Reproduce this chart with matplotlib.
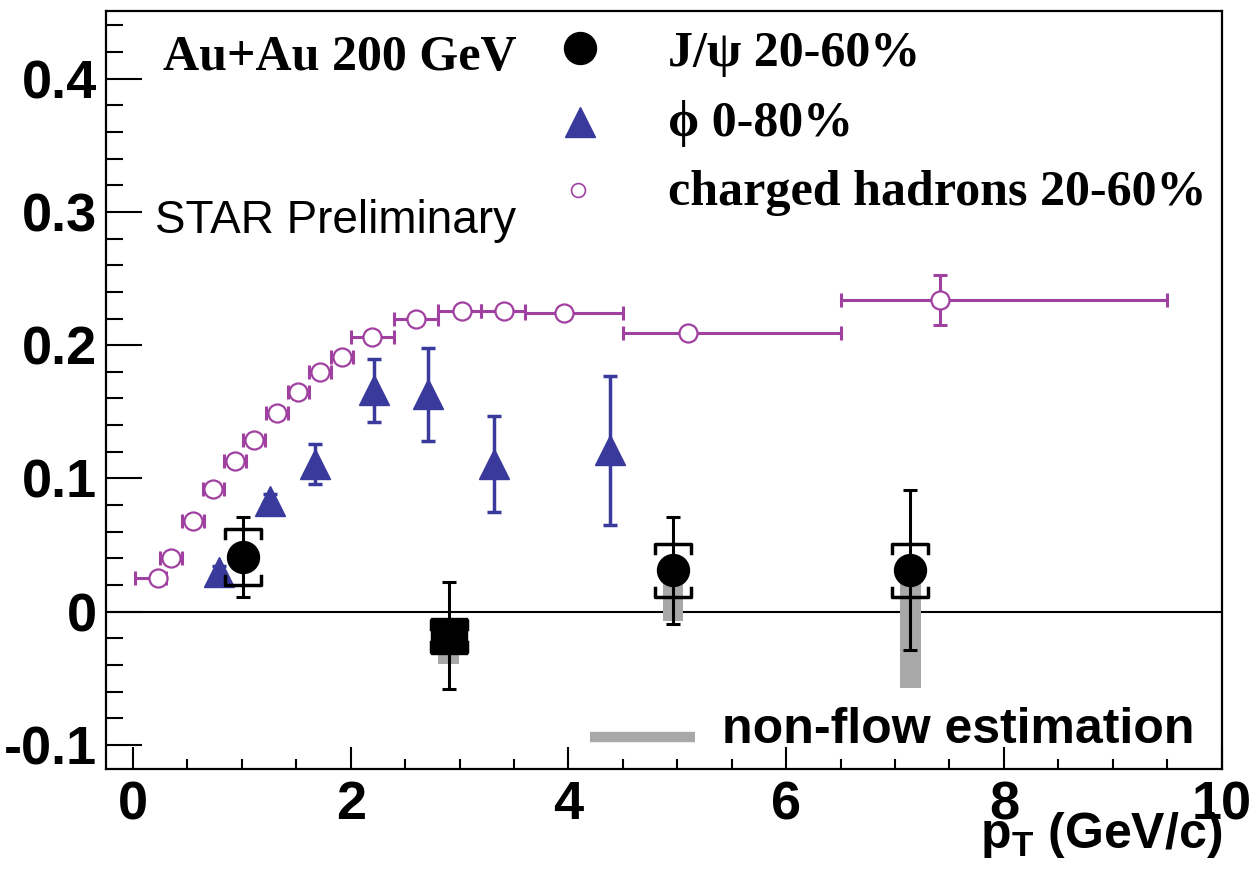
import numpy as np
import matplotlib
matplotlib.use("Agg")
from matplotlib import pyplot as plt
from matplotlib.ticker import MultipleLocator, FixedLocator, FixedFormatter

# J/psi 20-60% (last three have non-flow estimates)
jpsi_pt = [1.01, 2.90, 4.96, 7.14]
jpsi_v2 = [0.041, -0.018, 0.031, 0.031]
jpsi_stat = [0.030, 0.040, 0.040, 0.060]
jpsi_sys = [0.021, 0.012, 0.020, 0.020]
jpsi_nonflow = [0.0, 0.021, 0.038, 0.088]
jpsi_marker = ["o", "s", "o", "o"]

# phi 0-80%
phi_pt = [0.79, 1.26, 1.67, 2.21, 2.71, 3.32, 4.38]
phi_v2 = [0.030, 0.083, 0.111, 0.166, 0.163, 0.111, 0.121]
phi_err = [0.004, 0.005, 0.015, 0.024, 0.035, 0.036, 0.056]

# charged hadrons 20-60%
ch_pt = [0.23, 0.35, 0.55, 0.74, 0.94, 1.11, 1.32, 1.52, 1.72, 1.92,
         2.20, 2.60, 3.02, 3.41, 3.96, 5.10, 7.41]
ch_v2 = [0.025, 0.040, 0.068, 0.092, 0.113, 0.129, 0.149, 0.165, 0.180, 0.191,
         0.206, 0.220, 0.226, 0.226, 0.224, 0.209, 0.234]
ch_xlo = [0.02, 0.25, 0.45, 0.64, 0.84, 1.01, 1.22, 1.42, 1.62, 1.82,
          2.0, 2.4, 2.8, 3.2, 3.6, 4.5, 6.5]
ch_xhi = [0.30, 0.45, 0.65, 0.84, 1.04, 1.21, 1.42, 1.62, 1.82, 2.02,
          2.4, 2.8, 3.2, 3.6, 4.5, 6.5, 9.5]
ch_yerr = [0.002] * 16 + [0.019]

xticks = [0, 2, 4, 6, 8, 10]
xtick_labels = ["0", "2", "4", "6", "8", "10"]
yticks = [-0.1, 0.0, 0.1, 0.2, 0.3, 0.4]
ytick_labels = ["-0.1", "0", "0.1", "0.2", "0.3", "0.4"]

plt.rcParams["mathtext.fontset"] = "custom"
plt.rcParams["mathtext.rm"] = "Liberation Sans:bold"
plt.rcParams["mathtext.it"] = "Liberation Sans:bold"
plt.rcParams["mathtext.bf"] = "Liberation Sans:bold"

SANS = ["Liberation Sans", "DejaVu Sans"]
SERIF = ["Liberation Serif", "DejaVu Serif"]
CH_COLOR = "#a040a0"
PHI_COLOR = "#3a3a9c"
GREY = "#a8a8a8"

fig = plt.figure(figsize=(12.52, 8.89), dpi=100)
ax = fig.add_axes([0.0844, 0.135, 0.8914, 0.853])
ax.set_xlim(-0.25, 10)
ax.set_ylim(-0.118, 0.451)

ax.axhline(0, color="black", lw=1.5, zorder=1)

# non-flow estimation boxes, hanging below the J/psi points
ax.bar(jpsi_pt, [-n for n in jpsi_nonflow], bottom=jpsi_v2, width=0.19,
       color=GREY, zorder=1)

# charged hadrons
ch_pt_a = np.array(ch_pt)
xerr = [ch_pt_a - np.array(ch_xlo), np.array(ch_xhi) - ch_pt_a]
ax.errorbar(ch_pt, ch_v2, xerr=xerr, yerr=ch_yerr, fmt="none", ecolor=CH_COLOR,
            elinewidth=2.2, capsize=5, capthick=2.2, zorder=2)
ax.plot(ch_pt, ch_v2, "o", ms=13, mfc="white", mec=CH_COLOR, mew=1.6,
        ls="none", zorder=3)

# phi
ax.errorbar(phi_pt, phi_v2, yerr=phi_err, fmt="none", ecolor=PHI_COLOR,
            elinewidth=2.5, capsize=5, capthick=2.5, zorder=2)
ax.plot(phi_pt, phi_v2, "^", ms=21, color=PHI_COLOR, ls="none", zorder=3)

# J/psi: systematic brackets, stat errors, markers
half_w, tick = 0.165, 0.007
for xi, yi, si in zip(jpsi_pt, jpsi_v2, jpsi_sys):
    top, bot = yi + si, yi - si
    ax.plot([xi - half_w, xi - half_w, xi + half_w, xi + half_w],
            [top - tick, top, top, top - tick], color="black", lw=2.5, zorder=4)
    ax.plot([xi - half_w, xi - half_w, xi + half_w, xi + half_w],
            [bot + tick, bot, bot, bot + tick], color="black", lw=2.5, zorder=4)
ax.errorbar(jpsi_pt, jpsi_v2, yerr=jpsi_stat, fmt="none", ecolor="black",
            elinewidth=2.2, capsize=5, capthick=2.2, zorder=4)
for xi, yi, m in zip(jpsi_pt, jpsi_v2, jpsi_marker):
    ax.plot([xi], [yi], m, ms=23 if m == "o" else 26, color="black", zorder=6)

# axes styling (ROOT-like, inward ticks on left and bottom only)
for s in ax.spines.values():
    s.set_linewidth(1.6)
ax.xaxis.set_major_locator(FixedLocator(xticks))
ax.xaxis.set_major_formatter(FixedFormatter(xtick_labels))
ax.xaxis.set_minor_locator(MultipleLocator(0.5))
ax.yaxis.set_major_locator(FixedLocator(yticks))
ax.yaxis.set_major_formatter(FixedFormatter(ytick_labels))
ax.yaxis.set_minor_locator(MultipleLocator(0.02))
ax.tick_params(which="both", direction="in", top=False, right=False, width=1.5)
ax.tick_params(axis="x", which="major", length=16, pad=8)
ax.tick_params(axis="x", which="minor", length=7)
ax.tick_params(axis="y", which="major", length=26, pad=6)
ax.tick_params(axis="y", which="minor", length=12)
for lab in ax.get_xticklabels() + ax.get_yticklabels():
    lab.set_family(SANS)
    lab.set_fontweight("bold")
    lab.set_fontsize(39)

fig.text(0.976, 0.046, r"p$_{\mathrm{T}}$ (GeV/c)", ha="right", va="baseline",
         family=SANS, fontweight="bold", fontsize=36)

# annotations and legend, placed in axes fractions
T = ax.transAxes
ax.text(0.0513, 0.9218, "Au+Au 200 GeV", transform=T, family=SERIF,
        fontweight="bold", fontsize=36, va="baseline")
ax.text(0.0443, 0.7068, "STAR Preliminary", transform=T, family=SANS,
        fontsize=33, va="baseline")

ax.plot([0.425], [0.9508], "o", ms=23, color="black", transform=T, clip_on=False)
ax.plot([0.425], [0.8532], "^", ms=22, color=PHI_COLOR, transform=T)
ax.plot([0.4233], [0.7636], "o", ms=10, mfc="white", mec=CH_COLOR, mew=1.2,
        transform=T)
ax.text(0.5038, 0.9271, "J/\u03c8 20-60%", transform=T, family=SERIF,
        fontweight="bold", fontsize=36, va="baseline")
ax.text(0.5038, 0.8347, "\u03d5 0-80%", transform=T, family=SERIF,
        fontweight="bold", fontsize=36, va="baseline")
ax.text(0.5038, 0.7438, "charged hadrons 20-60%", transform=T, family=SERIF,
        fontweight="bold", fontsize=36, va="baseline")

ax.plot([0.434, 0.528], [0.0426, 0.0426], color=GREY, lw=7.5,
        solid_capstyle="butt", transform=T)
ax.text(0.5523, 0.0343, "non-flow estimation", transform=T, family=SANS,
        fontweight="bold", fontsize=36, va="baseline")

fig.savefig("out.png", dpi=100)
